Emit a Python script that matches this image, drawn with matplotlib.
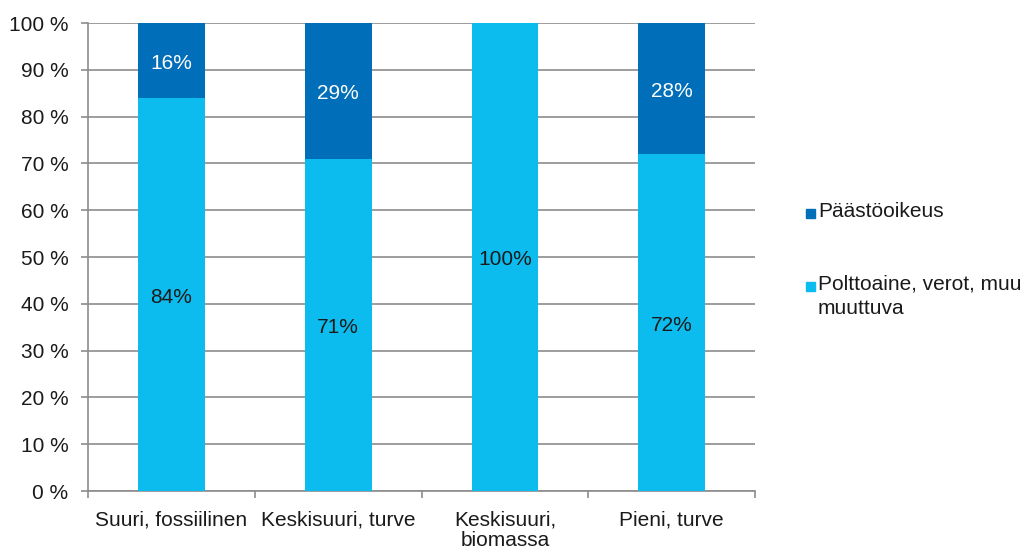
import matplotlib.pyplot as plt
from matplotlib.patches import Rectangle

plt.rcParams['font.family'] = ['Liberation Sans', 'DejaVu Sans']
plt.rcParams['font.size'] = 15

categories = ['Suuri, fossiilinen', 'Keskisuuri, turve', 'Keskisuuri,\nbiomassa', 'Pieni, turve']
polttoaine = [84, 71, 100, 72]
paasto = [16, 29, 0, 28]
yticks = [0, 10, 20, 30, 40, 50, 60, 70, 80, 90, 100]
legend_labels = ['Päästöoikeus', 'Polttoaine, verot, muu\nmuuttuva']

light = '#0cbcee'
dark = '#006eb8'
grid_col = '#8c8c8c'
txt_col = '#1a1a1a'

fig = plt.figure(figsize=(10.27, 5.49), dpi=100)
ax = fig.add_axes([0.0857, 0.1056, 0.6495, 0.8525])

x = list(range(len(categories)))
ax.bar(x, polttoaine, width=0.4, color=light, zorder=3)
ax.bar(x, paasto, width=0.4, bottom=polttoaine, color=dark, zorder=3)

for i in x:
    if polttoaine[i] > 0:
        ax.annotate(f'{polttoaine[i]}%', (i, polttoaine[i] / 2), xytext=(0, -2),
                    textcoords='offset points', ha='center', va='center',
                    color=txt_col, zorder=4)
    if paasto[i] > 0:
        ax.annotate(f'{paasto[i]}%', (i, polttoaine[i] + paasto[i] / 2), xytext=(0, -2),
                    textcoords='offset points', ha='center', va='center',
                    color='white', zorder=4)

ax.set_xlim(-0.5, len(categories) - 0.5)
ax.set_ylim(0, 100)
ax.set_yticks(yticks)
ax.set_yticklabels([f'{t} %' for t in yticks])
ax.yaxis.grid(True, color=grid_col, linewidth=1.2, zorder=0)

# category boundaries carry the tick marks, labels sit at the centres
ax.set_xticks([i - 0.5 for i in range(len(categories) + 1)])
ax.set_xticklabels([])
ax.set_xticks(x, minor=True)
ax.set_xticklabels(categories, minor=True, linespacing=1.1)
ax.tick_params(axis='x', which='minor', length=0, pad=14)
ax.tick_params(axis='x', which='major', length=5, color=grid_col, width=1.2)
ax.tick_params(axis='y', length=5, color=grid_col, width=1.2, pad=9)
for lbl in ax.get_yticklabels():
    lbl.set_color(txt_col)
for lbl in ax.get_xticklabels(minor=True):
    lbl.set_color(txt_col)

for s in ['top', 'right']:
    ax.spines[s].set_visible(False)
for s in ['left', 'bottom']:
    ax.spines[s].set_color(grid_col)
    ax.spines[s].set_linewidth(1.2)

# legend drawn by hand so the swatch lines up with the first text line
W, H = fig.get_size_inches() * fig.dpi
for (label, col, ypix) in zip(legend_labels, [dark, light], [213, 286]):
    fig.patches.append(Rectangle((806 / W, 1 - (ypix + 4.5) / H), 9 / W, 9 / H,
                                 color=col, transform=fig.transFigure))
    fig.text(818 / W, 1 - (ypix - 11) / H, label, ha='left', va='top',
             linespacing=1.3, color=txt_col)

fig.savefig('out.png')
